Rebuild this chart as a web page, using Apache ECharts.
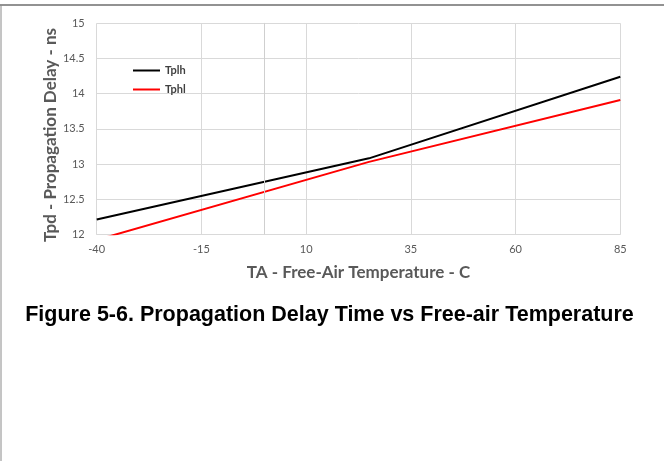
<!DOCTYPE html>
<html>
<head>
<meta charset="utf-8">
<script src="https://cdn.jsdelivr.net/npm/echarts@6/dist/echarts.min.js"></script>
<style>html,body{margin:0;padding:0;background:#fff;}#c{width:664px;height:461px;}</style>
</head>
<body>
<div id="c"></div>
<script>
const temps = [-40, 25, 85];
const tplh = [12.21, 13.08, 14.24];
const tphl = [11.92, 13.03, 13.91];
const seriesNames = ['Tplh', 'Tphl'];
const xTitle = 'TA - Free-Air Temperature - C';
const yTitle = 'Tpd - Propagation Delay - ns';
const caption = 'Figure 5-6. Propagation Delay Time vs Free-air Temperature';

const chart = echarts.init(document.getElementById('c'), null, {renderer: 'canvas'});
const gridColor = '#d9d9d9';
const labelColor = '#595959';
chart.setOption({
  animation: false,
  backgroundColor: '#fff',
  grid: {left: 96.7, right: 43.7, top: 23.3, bottom: 226.7, containLabel: false},
  legend: {
    orient: 'vertical', left: 128, top: 59,
    itemWidth: 27, itemHeight: 2, itemGap: 6,
    textStyle: {fontFamily: 'Lato', fontWeight: 'bold', fontSize: 11, color: '#404040', lineHeight: 13},
    data: seriesNames.map(n => ({name: n, icon: 'rect'}))
  },
  xAxis: {
    type: 'value', min: -40, max: 85, interval: 25,
    axisLine: {show: true, lineStyle: {color: gridColor, width: 1}},
    axisTick: {show: false},
    splitLine: {show: true, lineStyle: {color: gridColor, width: 1}},
    axisLabel: {color: labelColor, fontFamily: 'Lato', fontSize: 11, margin: 10}
  },
  yAxis: {
    type: 'value', min: 12, max: 15, interval: 0.5,
    axisLine: {show: true, lineStyle: {color: gridColor, width: 1}},
    axisTick: {show: false},
    splitLine: {show: true, lineStyle: {color: gridColor, width: 1}},
    axisLabel: {color: labelColor, fontFamily: 'Lato', fontSize: 11, margin: 12}
  },
  series: [
    {
      name: seriesNames[0], type: 'line', symbol: 'none', clip: true,
      data: temps.map((t, i) => [t, tplh[i]]),
      lineStyle: {color: '#000000', width: 2}, itemStyle: {color: '#000000'},
      markLine: {
        silent: true, symbol: ['none', 'none'], label: {show: false},
        lineStyle: {color: '#cfcfcf', width: 1, type: 'solid'},
        data: [{xAxis: 0}]
      },
      z: 3
    },
    {
      name: seriesNames[1], type: 'line', symbol: 'none', clip: true,
      data: temps.map((t, i) => [t, tphl[i]]),
      lineStyle: {color: '#ff0000', width: 2}, itemStyle: {color: '#ff0000'},
      z: 2
    }
  ],
  graphic: [
    {type: 'line', shape: {x1: 0, y1: 5, x2: 664, y2: 5}, style: {stroke: '#6e6e6e', lineWidth: 1.5}},
    {type: 'line', shape: {x1: 1, y1: 5, x2: 1, y2: 461}, style: {stroke: '#8a8a8a', lineWidth: 1}},
    {type: 'text', x: 51, y: 135, rotation: Math.PI / 2,
     style: {text: yTitle, fill: labelColor, font: 'bold 17px Lato', textAlign: 'center', textVerticalAlign: 'middle'}},
    {type: 'text', x: 358.5, y: 273,
     style: {text: xTitle, fill: labelColor, font: 'bold 17px Lato', textAlign: 'center', textVerticalAlign: 'middle'}},
    {type: 'text', x: 329.5, y: 315,
     style: {text: caption, fill: '#000000', font: 'bold 21.5px "Liberation Sans"', textAlign: 'center', textVerticalAlign: 'middle'}}
  ]
});
</script>
</body>
</html>
